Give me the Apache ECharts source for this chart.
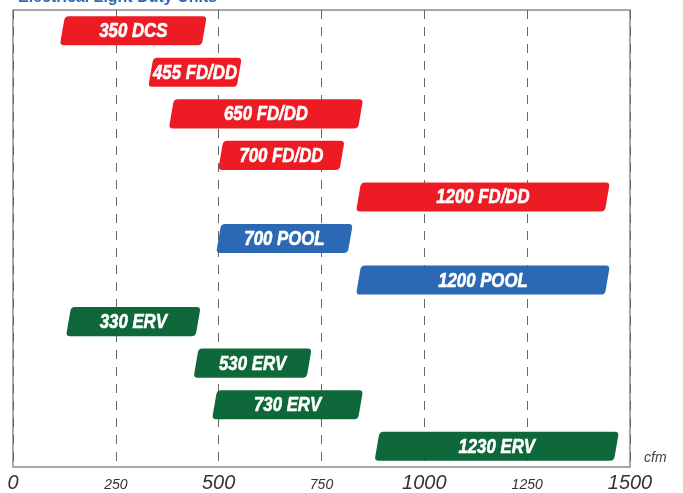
<!DOCTYPE html>
<html>
<head>
<meta charset="utf-8">
<script src="https://cdn.jsdelivr.net/npm/echarts@6/dist/echarts.min.js"></script>
<style>
html,body{margin:0;padding:0;background:#fff;}
#main{width:683px;height:493px;}
</style>
</head>
<body>
<div id="main"></div>
<script>
// units, top to bottom
var models = ['350 DCS', '455 FD/DD', '650 FD/DD', '700 FD/DD', '1200 FD/DD', '700 POOL', '1200 POOL', '330 ERV', '530 ERV', '730 ERV', '1230 ERV'];
var minCfm = [120, 335, 385, 505, 840, 500, 840, 135, 445, 490, 885];
var maxCfm = [465, 550, 845, 800, 1445, 820, 1445, 450, 720, 845, 1467];
var family = ['fd', 'fd', 'fd', 'fd', 'fd', 'pool', 'pool', 'erv', 'erv', 'erv', 'erv'];
var colors = {fd: '#ed1c24', pool: '#2b69b4', erv: '#0f6839'};

// rounded parallelogram path
function barPath(x1, x2, yt, yb, s, r){
	var pts = [[x1 + s, yt], [x2 + s, yt], [x2 - s, yb], [x1 - s, yb]];
	var d = '';
	for (var i = 0; i < 4; i++) {
		var v = pts[i], p = pts[(i + 3) % 4], n = pts[(i + 1) % 4];
		var lp = Math.hypot(p[0] - v[0], p[1] - v[1]);
		var ln = Math.hypot(n[0] - v[0], n[1] - v[1]);
		var a = [v[0] + r * (p[0] - v[0]) / lp, v[1] + r * (p[1] - v[1]) / lp];
		var b = [v[0] + r * (n[0] - v[0]) / ln, v[1] + r * (n[1] - v[1]) / ln];
		d += (i == 0 ? 'M' : 'L') + a[0] + ',' + a[1] + 'Q' + v[0] + ',' + v[1] + ' ' + b[0] + ',' + b[1];
	}
	return d + 'Z';
}

var data = models.map(function(m, i){
	return {value: [i, minCfm[i], maxCfm[i]], name: m, itemStyle: {color: colors[family[i]]}};
});

function renderItem(params, api){
	var cat = api.value(0);
	var p1 = api.coord([api.value(1), cat]);
	var p2 = api.coord([api.value(2), cat]);
	var h = api.size([0, 1])[1] * 0.7;
	var yt = p1[1] - h / 2, yb = p1[1] + h / 2;
	return {
		type: 'group',
		children: [{
			type: 'path',
			shape: {pathData: barPath(p1[0], p2[0], yt, yb, 2.5, 4)},
			style: {fill: api.visual('color')}
		}, {
			type: 'text',
			x: (p1[0] + p2[0]) / 2,
			y: p1[1] + 1,
			scaleX: 0.84,
			style: {
				text: models[params.dataIndex],
				x: 0,
				y: 0,
				align: 'center',
				verticalAlign: 'middle',
				fill: '#fff',
				stroke: '#fff',
				lineWidth: 0.6,
				font: 'italic bold 20px "Liberation Sans", Arial, sans-serif'
			}
		}]
	};
}

var option = {
	animation: false,
	title: {
		text: 'Electrical Light Duty Units',
		left: 13,
		top: -15,
		textStyle: {color: '#2b69b4', fontSize: 16, fontWeight: 'bold', fontFamily: 'Liberation Sans'}
	},
	grid: {left: 13, right: 53, top: 10, bottom: 25, show: true, borderColor: '#8c8c8c', borderWidth: 1.5, backgroundColor: 'transparent'},
	xAxis: {
		type: 'value',
		min: 0,
		max: 1500,
		interval: 250,
		axisLine: {show: false},
		axisTick: {show: false},
		splitLine: {
			show: true,
			lineStyle: {color: '#666', width: 1, type: [9, 8]}
		},
		axisLabel: {
			margin: 6,
			formatter: function(v){
				return v % 500 == 0 ? '{big|' + v + '}' : '{small|' + v + '}';
			},
			rich: {
				big: {fontSize: 20, fontStyle: 'italic', fontFamily: 'Liberation Sans', color: '#333', lineHeight: 20},
				small: {fontSize: 14, fontStyle: 'italic', fontFamily: 'Liberation Sans', color: '#333', lineHeight: 20, padding: [5, 0, 0, 0]}
			}
		}
	},
	yAxis: {
		type: 'category',
		data: models,
		inverse: true,
		show: false
	},
	graphic: [{
		type: 'text',
		left: 644,
		top: 451,
		style: {text: 'cfm', fill: '#444', font: 'italic 14px "Liberation Sans", sans-serif'}
	}],
	series: [{
		type: 'custom',
		renderItem: renderItem,
		encode: {x: [1, 2], y: 0},
		data: data
	}]
};

var myChart = echarts.init(document.getElementById('main'));
myChart.setOption(option);
</script>
</body>
</html>
